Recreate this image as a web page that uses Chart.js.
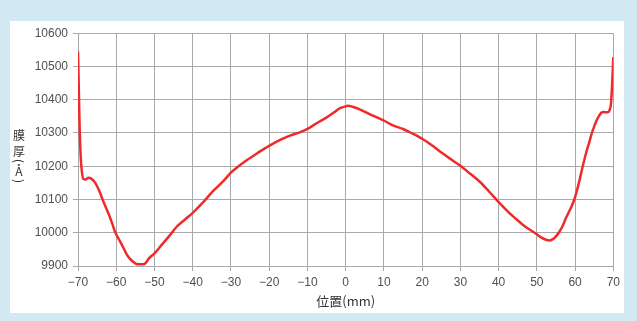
<!DOCTYPE html>
<html>
<head>
<meta charset="utf-8">
<script src="https://cdn.jsdelivr.net/npm/chart.js@4"></script>
<style>
  html, body { margin: 0; padding: 0; }
  body { width: 637px; height: 321px; background: #d2e8f2; position: relative; overflow: hidden; }
  #panel { position: absolute; left: 10px; top: 21px; width: 614px; height: 292px; background: #fff; }
</style>
</head>
<body>
<div id="panel"><canvas id="chart"></canvas></div>
<script>
// --- DATA ---
const positions = [
    -70, -69.8, -69.6, -69.3, -69, -68.6, -68, -67.3, -66.5, -65.5, -64.5, -63.4, -62, -61, -60.3,
    -59, -58, -57.3, -56.5, -55.5, -54.7, -53.8, -53, -52.3, -51.6, -50.8, -50, -48, -46, -44.2,
    -42, -40, -37, -34.7, -32, -29.9, -28, -25.9, -23, -19.9, -17, -14.6, -12, -9.85, -7.5,
    -5.05, -3, -1.6, 0, 0.6, 2, 3.65, 6, 8.9, 10.2, 12.5, 15, 17.5, 20.2, 23,
    25.4, 28, 30.2, 32.5, 35, 37.5, 40.2, 42.5, 44.6, 47, 49.8, 51, 52.4, 53.3, 54.1,
    55, 55.9, 56.8, 57.6, 58.7, 59.8, 61, 62, 63, 63.7, 64.4, 65, 65.8, 66.8, 67.5,
    68.5, 69, 69.4, 69.7, 70
];
const thickness = [
    10545, 10440, 10330, 10230, 10185, 10162, 10160, 10165, 10162, 10150, 10128, 10095, 10057, 10026, 10002,
    9974, 9952, 9936, 9923, 9912, 9906, 9905, 9905, 9909, 9921, 9930, 9938, 9965, 9992, 10018,
    10040, 10060, 10095, 10125, 10155, 10182, 10200, 10218, 10240, 10262, 10280, 10292, 10302, 10313, 10330,
    10346, 10362, 10374, 10380, 10382, 10378, 10371, 10358, 10343, 10336, 10322, 10312, 10298, 10281, 10259,
    10238, 10217, 10200, 10178, 10154, 10124, 10090, 10063, 10041, 10018, 9997, 9987, 9979, 9977, 9980,
    9989, 10003, 10022, 10044, 10070, 10100, 10150, 10200, 10245, 10272, 10300, 10320, 10342, 10360, 10363,
    10362, 10368, 10390, 10450, 10528
];
const xTicks = [-70, -60, -50, -40, -30, -20, -10, 0, 10, 20, 30, 40, 50, 60, 70];
const yTicks = [9900, 10000, 10100, 10200, 10300, 10400, 10500, 10600];
const xTitle = '位置(mm)';
const yTitleChars = ['膜', '厚', '(', 'Å', ')'];

const FONT = '"Noto Sans CJK JP", "DejaVu Sans", sans-serif';
const TICK_FONT = '"Liberation Sans", Arial, sans-serif';
const GRID = '#a9a9a9';
const TEXT = '#505050';

// vertical y-axis title, one character per line, brackets turned sideways
const yTitlePlugin = {
    id: 'yTitle',
    afterDraw(chart) {
        const { ctx, chartArea } = chart;
        const mid = (chartArea.top + chartArea.bottom) / 2;
        const offsets = [-14.5, 1.5, 11.5, 21.5, 31.5];
        ctx.save();
        ctx.fillStyle = '#333';
        ctx.font = '12px ' + FONT;
        ctx.textAlign = 'center';
        ctx.textBaseline = 'middle';
        yTitleChars.forEach((ch, i) => {
            const y = mid + offsets[i];
            if (ch === '(' || ch === ')') {
                ctx.save();
                ctx.translate(9, y);
                ctx.rotate(Math.PI / 2);
                ctx.fillText(ch, 0, 0);
                ctx.restore();
            } else {
                ctx.fillText(ch, 9, y);
            }
        });
        ctx.restore();
    }
};

new Chart(document.getElementById('chart'), {
    type: 'scatter',
    data: {
        datasets: [{
            data: positions.map((x, i) => ({ x, y: thickness[i] })),
            showLine: true,
            borderColor: '#ef2a2a',
            borderWidth: 2.5,
            pointRadius: 0,
            cubicInterpolationMode: 'monotone'
        }]
    },
    options: {
        responsive: true,
        maintainAspectRatio: false,
        animation: false,
        layout: { padding: { left: 0, right: 10, top: 8, bottom: 0 } },
        plugins: { legend: { display: false }, tooltip: { enabled: false } },
        scales: {
            x: {
                type: 'linear', min: -70, max: 70,
                afterBuildTicks: s => { s.ticks = xTicks.map(v => ({ value: v })); },
                afterFit: s => { s.height = 47; },
                grid: { color: GRID, tickLength: 5, tickColor: GRID },
                border: { color: GRID },
                ticks: {
                    color: TEXT, padding: 4, maxRotation: 0,
                    font: { family: TICK_FONT, size: 12 },
                    callback: v => String(v).replace('-', '−')
                },
                title: {
                    display: true, text: xTitle, color: '#333',
                    font: { family: FONT, size: 13 },
                    padding: { top: 2, bottom: 4 }
                }
            },
            y: {
                min: 9900, max: 10600,
                afterBuildTicks: s => { s.ticks = yTicks.map(v => ({ value: v })); },
                afterFit: s => { s.width = 68; },
                grid: { color: GRID, tickLength: 5, tickColor: GRID },
                border: { color: GRID },
                ticks: {
                    color: TEXT, padding: 5,
                    font: { family: TICK_FONT, size: 12 },
                    callback: v => String(v)
                }
            }
        }
    },
    plugins: [yTitlePlugin]
});
</script>
</body>
</html>
